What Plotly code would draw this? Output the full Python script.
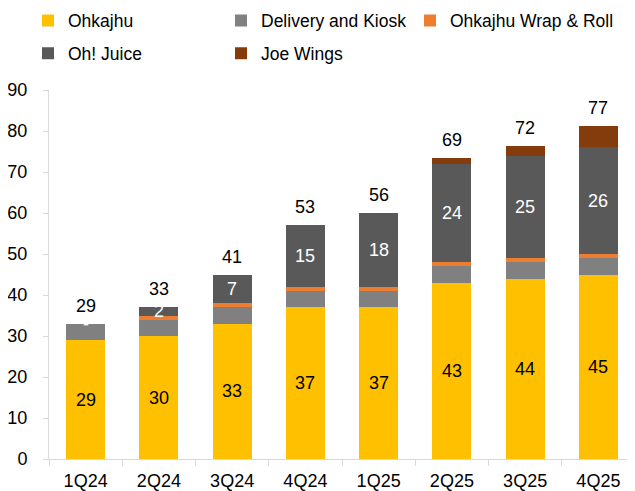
import plotly.graph_objects as go

quarters = ["1Q24", "2Q24", "3Q24", "4Q24", "1Q25", "2Q25", "3Q25", "4Q25"]
ohkajhu = [29, 30, 33, 37, 37, 43, 44, 45]
delivery_kiosk = [4, 4, 4, 4, 4, 4, 4, 4]
wrap_roll = [0, 1, 1, 1, 1, 1, 1, 1]
oh_juice = [0, 2, 7, 15, 18, 24, 25, 26]
joe_wings = [0, 0, 0, 0, 0, 1.4, 2.4, 5.2]
ohkajhu_labels = ["29", "30", "33", "37", "37", "43", "44", "45"]
juice_labels = ["-", "2", "7", "15", "18", "24", "25", "26"]
total_labels = ["29", "33", "41", "53", "56", "69", "72", "77"]
y_ticks = [0, 10, 20, 30, 40, 50, 60, 70, 80, 90]

FONT = "Arial, Liberation Sans, sans-serif"
series = [
    ("Ohkajhu", ohkajhu, "#FFC000", "legend"),
    ("Delivery and Kiosk", delivery_kiosk, "#808080", "legend"),
    ("Ohkajhu Wrap & Roll", wrap_roll, "#ED7D31", "legend3"),
    ("Oh! Juice", oh_juice, "#595959", "legend2"),
    ("Joe Wings", joe_wings, "#843C0C", "legend2"),
]

# page body has an 8px margin, so the figure is drawn 8px smaller
W, H = 627, 483

fig = go.Figure()
for name, vals, color, lg in series:
    fig.add_trace(go.Bar(x=quarters, y=vals, name=name, marker_color=color,
                         marker_line_width=0, legend=lg))

annotations = []
for i, q in enumerate(quarters):
    base_juice = ohkajhu[i] + delivery_kiosk[i] + wrap_roll[i]
    top = base_juice + oh_juice[i] + joe_wings[i]
    annotations.append(dict(x=q, y=ohkajhu[i] / 2, text=ohkajhu_labels[i], showarrow=False,
                            font=dict(size=18, color="#000000", family=FONT)))
    annotations.append(dict(x=q, y=base_juice + oh_juice[i] / 2, text=juice_labels[i], showarrow=False,
                            font=dict(size=18, color="#FFFFFF", family=FONT)))
    annotations.append(dict(x=q, y=top, text=total_labels[i], showarrow=False, yanchor="middle",
                            yshift=18, font=dict(size=18, color="#000000", family=FONT)))

legend_common = dict(orientation="h", xref="container", yref="container", xanchor="left",
                     yanchor="middle", font=dict(size=17.5, color="#000000", family=FONT),
                     bgcolor="rgba(0,0,0,0)", traceorder="normal")

fig.update_layout(
    width=W, height=H,
    margin=dict(l=41, r=0, t=82, b=32, autoexpand=False),
    paper_bgcolor="white", plot_bgcolor="white",
    barmode="stack", bargap=0.47,
    font=dict(family=FONT, size=18, color="#000000"),
    legend=dict(x=20 / W, y=1 - 12.7 / H, entrywidth=148, **legend_common),
    legend3=dict(x=402 / W, y=1 - 12.7 / H, **legend_common),
    legend2=dict(x=20 / W, y=1 - 45.3 / H, entrywidth=148, **legend_common),
    annotations=annotations,
    xaxis=dict(showline=True, linecolor="#D9D9D9", linewidth=1, ticks="outside",
               tickson="boundaries", ticklen=6, tickcolor="#D9D9D9", showgrid=False,
               ticklabelstandoff=5, tickfont=dict(size=18, color="#000000")),
    yaxis=dict(range=[0, 90], tickvals=y_ticks, showline=True, linecolor="#D9D9D9",
               linewidth=1, ticks="outside", ticklen=5, tickcolor="#D9D9D9",
               showgrid=False, zeroline=False, ticklabelstandoff=12,
               tickfont=dict(size=18, color="#000000")),
)

fig.write_html("out.html")
